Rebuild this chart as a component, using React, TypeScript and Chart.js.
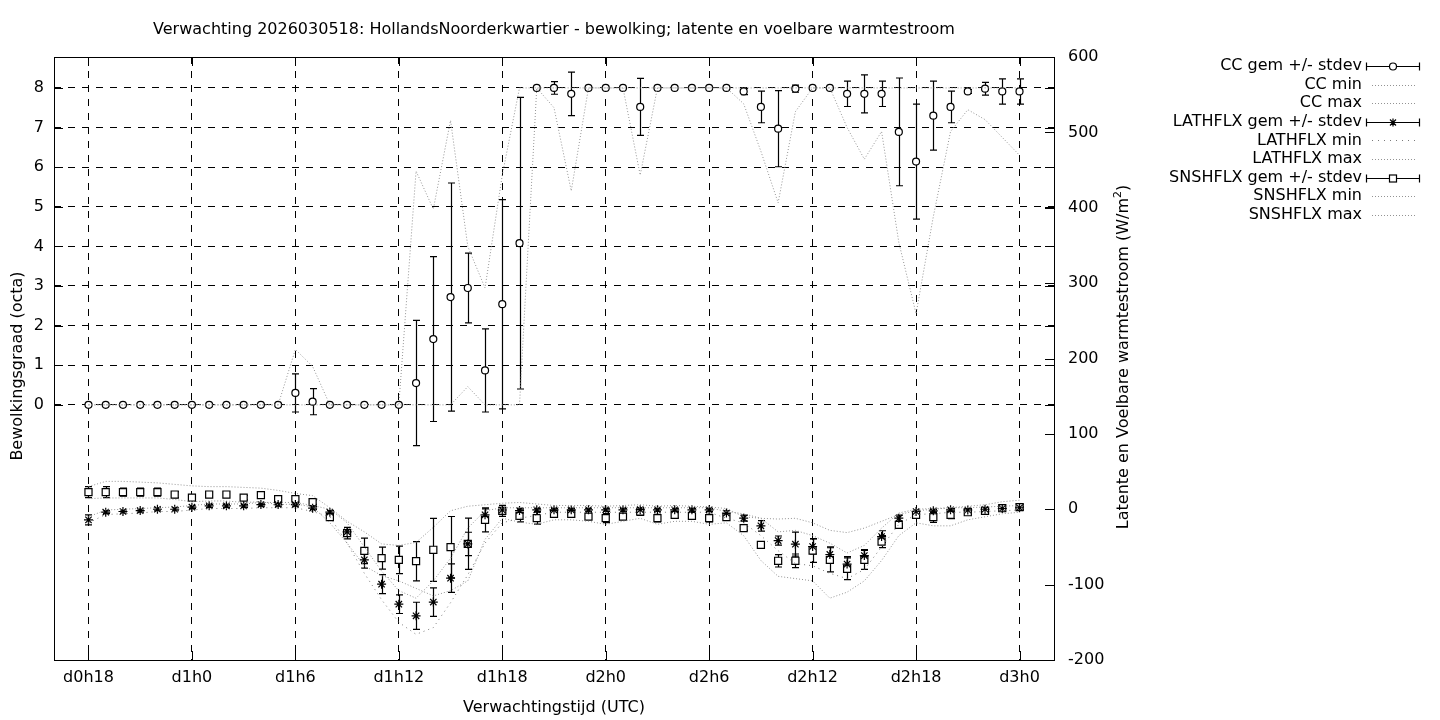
import React, { useEffect, useRef } from 'react';
import { Chart, registerables } from 'chart.js';

Chart.register(...registerables);

// ---------- data ----------
const hours = [
  18, 19, 20, 21, 22, 23, 24, 25, 26, 27, 28, 29,
  30, 31, 32, 33, 34, 35, 36,
  37, 38, 39, 40, 41, 42, 43,
  44, 45, 46, 47, 48, 49, 50,
  51, 52, 53, 54, 55, 56, 57,
  58, 59, 60, 61, 62, 63, 64,
  65, 66, 67, 68, 69, 70, 71, 72,
];

const tickHours = [18, 24, 30, 36, 42, 48, 54, 60, 66, 72];
const tickLabels = ['d0h18', 'd1h0', 'd1h6', 'd1h12', 'd1h18', 'd2h0', 'd2h6', 'd2h12', 'd2h18', 'd3h0'];
const ccTicks = [0, 1, 2, 3, 4, 5, 6, 7, 8];
const fluxTicks = [-200, -100, 0, 100, 200, 300, 400, 500, 600];

const ccMean = [
  0, 0, 0, 0, 0, 0, 0, 0, 0, 0, 0, 0,
  0.30, 0.08, 0, 0, 0, 0, 0,
  0.55, 1.66, 2.72, 2.95, 0.87, 2.54, 4.08,
  8, 8, 7.85, 8, 8, 8, 7.52,
  8, 8, 8, 8, 8, 7.91, 7.52,
  6.97, 7.98, 8, 8, 7.85, 7.85, 7.85,
  6.89, 6.14, 7.30, 7.52, 7.91, 7.98, 7.91, 7.91,
];
const ccSd = [
  0, 0, 0, 0, 0, 0, 0, 0, 0, 0, 0, 0,
  0.48, 0.33, 0, 0, 0, 0, 0,
  1.58, 2.08, 2.88, 0.88, 1.05, 2.64, 3.68,
  0, 0.16, 0.55, 0, 0, 0, 0.72,
  0, 0, 0, 0, 0, 0.08, 0.40,
  0.96, 0.09, 0, 0, 0.32, 0.48, 0.32,
  1.36, 1.45, 0.87, 0.40, 0.05, 0.16, 0.32, 0.32,
];
const ccMin = [
  0, 0, 0, 0, 0, 0, 0, 0, 0, 0, 0, 0,
  0, 0, 0, 0, 0, 0, 0,
  0, 0, 0, 0.46, 0, 0, 0,
  8, 7.5, 5.4, 8, 8, 8, 5.8,
  8, 8, 8, 8, 8, 7.6, 6.4,
  5.1, 7.4, 8, 8, 7.0, 6.2, 6.9,
  4.1, 2.3, 4.75, 6.9, 7.45, 7.2, 6.75, 6.3,
];
const ccMax = [
  0, 0, 0, 0, 0, 0, 0, 0, 0, 0, 0, 0,
  1.4, 0.97, 0, 0, 0, 0, 0,
  5.9, 4.94, 7.18, 4.0, 2.95, 5.8, 8,
  8, 8, 8, 8, 8, 8, 8,
  8, 8, 8, 8, 8, 8, 8,
  8, 8, 8, 8, 8, 8, 8,
  8, 8, 8, 8, 8, 8, 8, 8,
];

const lathMean = [
  -14.1, -3.9, -3.0, -1.7, 0, 0, 2.8, 4.5, 4.5, 4.5, 6.2, 6.2,
  6.2, 1.4, -3.9, -30, -67.1, -99.4, -125.9,
  -141.4, -123.2, -91.4, -46, -7.4, -1, -1.7,
  -0.8, -0.8, -0.8, -0.8, -0.8, -0.8, -0.5,
  -0.8, -0.8, -0.8, -0.8, -5, -11.8, -22,
  -41.5, -46.3, -49.4, -60, -72.8, -61.4, -36.2,
  -11.8, -3.0, -2.1, -0.8, -1, 0, 1, 2,
];
const lathSd = [
  6.6, 2, 2, 2, 2, 2, 2, 2, 2, 2, 2, 2,
  2, 2, 2, 6, 11, 12.6, 12.4,
  18, 19, 19, 15.5, 8, 3, 3,
  2, 2, 2, 2, 2, 2, 2,
  2, 2, 2, 2, 3, 4, 7,
  6, 16, 10, 10, 10, 8, 7.7,
  4, 2, 2, 2, 2, 2, 2, 2,
];
const lathMin = [
  -18, -7, -6, -5, -3, -3, -1, 1, 1, 1, 2, 2,
  2, -3, -10, -45, -85, -120, -150,
  -166, -157, -124, -87, -45, -18, -12,
  -8, -4, -4, -4, -4, -4, -4,
  -4, -4, -4, -4, -12, -18, -35,
  -55, -72, -75, -85, -92, -80, -50,
  -20, -7, -6, -4, -4, -3, -2, -1,
];
const lathMax = [
  -10, -1, 0, 1, 2, 3, 5, 7, 7, 7, 9, 9,
  9, 5, 0, -18, -50, -82, -108,
  -118, -95, -65, -25, -2, 2, 2,
  2, 2, 2, 2, 2, 2, 2,
  2, 2, 2, 2, -3, -6, -12,
  -30, -28, -35, -45, -58, -48, -25,
  -5, 0, 1, 2, 2, 3, 4, 5,
];

const snshMean = [
  22.7, 22.7, 22.7, 22.7, 22.7, 19.5, 15.5, 19.5, 19.5, 15.5, 18.7, 13.4,
  13.4, 9.4, -10.5, -31.7, -55.2, -64.9, -67.1,
  -68.9, -53.8, -50.3, -45.9, -14.1, -2.1, -8.8,
  -11.8, -6.1, -6.1, -9.7, -11.8, -9.7, -3.0,
  -11.8, -7.4, -8.8, -11.8, -10.5, -25.1, -47.2,
  -68.4, -68.4, -54.8, -67.1, -79.0, -67.1, -42.8,
  -20.7, -7.4, -10.5, -7.4, -3.9, -2.1, 1.4, 2.8,
];
const snshSd = [
  7.3, 7.3, 5.3, 5.3, 5.3, 4, 3, 3, 3, 3, 3, 3,
  3, 3, 3, 7.5, 17, 14.6, 18.3,
  26, 41.8, 40.7, 34, 16, 7.3, 8,
  8, 3, 4, 3, 6, 3, 5,
  5, 4, 3, 5, 3, 3, 4,
  8.2, 9, 15.7, 16, 14.4, 12.6, 8,
  4, 3, 7, 5, 3, 3, 4, 4,
];
const snshMin = [
  14, 15, 15, 15, 15, 13, 10, 11, 11, 9, 10, 6,
  7, 3, -18, -45, -75, -88, -95,
  -105, -115, -108, -95, -40, -12, -17,
  -20, -14, -14, -16, -20, -16, -12,
  -20, -16, -16, -20, -18, -35, -68,
  -89, -92, -95, -118, -110, -95, -68,
  -35, -18, -22, -22, -14, -10, -6, -4,
];
const snshMax = [
  30, 37, 37, 36, 35, 33, 31, 30, 30, 29, 28, 25,
  21, 18, 2, -16, -30, -46, -48,
  -44, -24, -2, 4, 6, 8, 9,
  7, 5, 5, 5, 4, 5, 6,
  4, 5, 4, 3, 1, -10, -12,
  -13, -12, -18, -28, -31, -25, -16,
  -7, -2, 0, 2, 4, 6, 10, 12,
];

const titleText = 'Verwachting 2026030518: HollandsNoorderkwartier - bewolking; latente en voelbare warmtestroom';
const xTitle = 'Verwachtingstijd (UTC)';
const yTitle = 'Bewolkingsgraad (octa)';
const y2TitleMain = 'Latente en Voelbare warmtestroom (W/m';

const legendItems = [
  { label: 'CC gem +/- stdev', kind: 'circle' },
  { label: 'CC min', kind: 'dot' },
  { label: 'CC max', kind: 'dot' },
  { label: 'LATHFLX gem +/- stdev', kind: 'star' },
  { label: 'LATHFLX min', kind: 'dotsparse' },
  { label: 'LATHFLX max', kind: 'dot' },
  { label: 'SNSHFLX gem +/- stdev', kind: 'square' },
  { label: 'SNSHFLX min', kind: 'dot' },
  { label: 'SNSHFLX max', kind: 'dot' },
];

// ---------- style ----------
const FAMILY = '"DejaVu Sans", "Noto Sans", sans-serif';
const FSIZE = 16;
const FONT = `${FSIZE}px ${FAMILY}`;
const GRAY = '#939393';
const GRID_DASH = [7, 7];

function drawMarker(ctx: CanvasRenderingContext2D, kind: string, x: number, y: number) {
  ctx.save();
  ctx.setLineDash([]);
  ctx.lineWidth = 1.2;
  ctx.strokeStyle = '#000';
  ctx.fillStyle = '#fff';
  if (kind === 'circle') {
    ctx.beginPath();
    ctx.arc(x, y, 3.5, 0, Math.PI * 2);
    ctx.fill();
    ctx.stroke();
  } else if (kind === 'square') {
    ctx.fillRect(x - 3.5, y - 3.5, 7, 7);
    ctx.strokeRect(x - 3.5, y - 3.5, 7, 7);
  } else if (kind === 'star') {
    const r = 4;
    ctx.beginPath();
    ctx.moveTo(x - r, y); ctx.lineTo(x + r, y);
    ctx.moveTo(x, y - r); ctx.lineTo(x, y + r);
    const d = r * 0.75;
    ctx.moveTo(x - d, y - d); ctx.lineTo(x + d, y + d);
    ctx.moveTo(x - d, y + d); ctx.lineTo(x + d, y - d);
    ctx.stroke();
  }
  ctx.restore();
}

const overlayPlugin = {
  id: 'overlay',
  beforeDatasetsDraw(chart: any) {
    const ctx: CanvasRenderingContext2D = chart.ctx;
    const xs = chart.scales.x;
    const { left, right, top, bottom } = chart.chartArea;
    ctx.save();
    ctx.beginPath();
    ctx.rect(left, top, right - left, bottom - top);
    ctx.clip();
    ctx.strokeStyle = '#000';
    ctx.lineWidth = 1.2;
    ctx.setLineDash([]);
    chart.data.datasets.forEach((ds: any) => {
      if (!ds.errors) return;
      const ys = chart.scales[ds.yAxisID];
      ds.data.forEach((p: any, i: number) => {
        const sd = ds.errors[i];
        if (!(sd > 0)) return;
        const px = Math.round(xs.getPixelForValue(p.x)) + 0.5;
        const y1 = ys.getPixelForValue(p.y + sd);
        const y2 = ys.getPixelForValue(p.y - sd);
        ctx.beginPath();
        ctx.moveTo(px, y1); ctx.lineTo(px, y2);
        ctx.moveTo(px - 3.5, y1); ctx.lineTo(px + 3.5, y1);
        ctx.moveTo(px - 3.5, y2); ctx.lineTo(px + 3.5, y2);
        ctx.stroke();
      });
    });
    ctx.restore();
  },
  afterDraw(chart: any) {
    const ctx: CanvasRenderingContext2D = chart.ctx;
    const { left, right, top, bottom } = chart.chartArea;
    const xs = chart.scales.x;
    const ys = chart.scales.y;
    const y2s = chart.scales.y1;
    ctx.save();
    ctx.setLineDash([]);
    ctx.strokeStyle = '#000';
    ctx.lineWidth = 1;
    // frame
    ctx.strokeRect(left + 0.5, top + 0.5, right - left, bottom - top);
    // inward ticks
    const T = 9;
    ctx.beginPath();
    tickHours.forEach((v) => {
      const px = Math.round(xs.getPixelForValue(v)) + 0.5;
      ctx.moveTo(px, bottom); ctx.lineTo(px, bottom - T);
      ctx.moveTo(px, top); ctx.lineTo(px, top + T);
    });
    ccTicks.forEach((v) => {
      const py = Math.round(ys.getPixelForValue(v)) + 0.5;
      ctx.moveTo(left, py); ctx.lineTo(left + T, py);
      ctx.moveTo(right, py); ctx.lineTo(right - T, py);
    });
    fluxTicks.forEach((v) => {
      const py = Math.round(y2s.getPixelForValue(v)) + 0.5;
      ctx.moveTo(right, py); ctx.lineTo(right - T, py);
    });
    ctx.stroke();

    // texts
    ctx.fillStyle = '#000';
    ctx.font = FONT;
    ctx.textBaseline = 'middle';
    ctx.textAlign = 'center';
    const cx = (left + right) / 2;
    ctx.fillText(titleText, cx, 30);
    ctx.fillText(xTitle, cx, 708);

    ctx.save();
    ctx.translate(18, 366);
    ctx.rotate(-Math.PI / 2);
    ctx.fillText(yTitle, 0, 0);
    ctx.restore();

    // right title with superscript
    ctx.save();
    ctx.translate(1124, 357);
    ctx.rotate(-Math.PI / 2);
    ctx.textAlign = 'left';
    const supFont = `${Math.round(FSIZE * 0.7)}px ${FAMILY}`;
    ctx.font = FONT;
    const w1 = ctx.measureText(y2TitleMain).width;
    ctx.font = supFont;
    const w2 = ctx.measureText('2').width;
    ctx.font = FONT;
    const w3 = ctx.measureText(')').width;
    const tot = w1 + w2 + w3;
    let sx = -tot / 2;
    ctx.fillText(y2TitleMain, sx, 0);
    sx += w1;
    ctx.font = supFont;
    ctx.fillText('2', sx, -6);
    sx += w2;
    ctx.font = FONT;
    ctx.fillText(')', sx, 0);
    ctx.restore();

    // legend
    const textRight = 1362;
    const sx0 = 1366;
    const sx1 = 1420;
    legendItems.forEach((it, i) => {
      const yy = 66 + i * 18.6;
      ctx.font = FONT;
      ctx.textAlign = 'right';
      ctx.fillStyle = '#000';
      ctx.fillText(it.label, textRight, yy);
      const py = Math.round(yy) + 0.5;
      if (it.kind === 'dot' || it.kind === 'dotsparse') {
        ctx.save();
        ctx.strokeStyle = it.kind === 'dotsparse' ? '#7a7a7a' : GRAY;
        ctx.lineWidth = 1;
        ctx.setLineDash(it.kind === 'dotsparse' ? [1, 5] : [1, 2]);
        ctx.beginPath();
        ctx.moveTo(sx0 + 6, py); ctx.lineTo(sx1 - 3, py);
        ctx.stroke();
        ctx.restore();
      } else {
        ctx.save();
        ctx.setLineDash([]);
        ctx.strokeStyle = '#000';
        ctx.lineWidth = 1.2;
        ctx.beginPath();
        ctx.moveTo(sx0, py); ctx.lineTo(sx1, py);
        ctx.moveTo(sx0 + 0.5, py - 4); ctx.lineTo(sx0 + 0.5, py + 4);
        ctx.moveTo(sx1 - 0.5, py - 4); ctx.lineTo(sx1 - 0.5, py + 4);
        ctx.stroke();
        ctx.restore();
        drawMarker(ctx, it.kind, (sx0 + sx1) / 2, py);
      }
    });
    ctx.restore();
  },
};

export default function App() {
  const ref = useRef<HTMLCanvasElement>(null);

  useEffect(() => {
    const canvas = ref.current;
    if (!canvas) return;
    const pts = (vals: number[]) => hours.map((h, i) => ({ x: h, y: vals[i] }));
    const dotted = (label: string, vals: number[], axis: string, dash: number[], color: string) => ({
      type: 'line',
      label,
      data: pts(vals),
      yAxisID: axis,
      borderColor: color,
      borderWidth: 1,
      borderDash: dash,
      pointRadius: 0,
      fill: false,
      tension: 0,
      order: 0,
    });
    const means = (label: string, vals: number[], sd: number[], axis: string, style: string, radius: number) => ({
      type: 'line',
      label,
      data: pts(vals),
      errors: sd,
      yAxisID: axis,
      showLine: false,
      pointStyle: style,
      pointRadius: radius,
      pointBorderColor: '#000',
      pointBackgroundColor: '#fff',
      pointBorderWidth: 1.2,
      order: 1,
    });

    const tickFont = { family: FAMILY, size: FSIZE };

    const chart = new Chart(canvas, {
      type: 'line',
      data: {
        datasets: [
          means('CC gem +/- stdev', ccMean, ccSd, 'y', 'circle', 3.5),
          dotted('CC min', ccMin, 'y', [1, 2], GRAY),
          dotted('CC max', ccMax, 'y', [1, 2], GRAY),
          means('LATHFLX gem +/- stdev', lathMean, lathSd, 'y1', 'star', 4.5),
          dotted('LATHFLX min', lathMin, 'y1', [1, 4], '#7a7a7a'),
          dotted('LATHFLX max', lathMax, 'y1', [1, 2], GRAY),
          means('SNSHFLX gem +/- stdev', snshMean, snshSd, 'y1', 'rect', 5),
          dotted('SNSHFLX min', snshMin, 'y1', [1, 2], GRAY),
          dotted('SNSHFLX max', snshMax, 'y1', [1, 2], GRAY),
        ] as any,
      },
      options: {
        responsive: false,
        animation: false,
        events: [],
        layout: { padding: { top: 57, left: 0, right: 0, bottom: 0 } },
        plugins: {
          legend: { display: false },
          title: { display: false },
          tooltip: { enabled: false },
        },
        scales: {
          x: {
            type: 'linear',
            position: 'bottom',
            min: 16,
            max: 74,
            afterBuildTicks: (s: any) => {
              s.ticks = tickHours.map((v) => ({ value: v }));
            },
            afterFit: (s: any) => {
              s.height = 60;
            },
            ticks: {
              autoSkip: false,
              maxRotation: 0,
              padding: 8,
              color: '#000',
              font: tickFont,
              callback: (v: any) => {
                const i = tickHours.indexOf(Number(v));
                return i >= 0 ? tickLabels[i] : '';
              },
            },
            grid: { color: '#000', lineWidth: 1, drawTicks: false },
            border: { display: false, dash: GRID_DASH },
          },
          y: {
            type: 'linear',
            position: 'left',
            min: -6.44,
            max: 8.78,
            afterBuildTicks: (s: any) => {
              s.ticks = ccTicks.map((v) => ({ value: v }));
            },
            afterFit: (s: any) => {
              s.width = 54;
            },
            ticks: { padding: 10, color: '#000', font: tickFont },
            grid: { color: '#000', lineWidth: 1, drawTicks: false },
            border: { display: false, dash: GRID_DASH },
          },
          y1: {
            type: 'linear',
            position: 'right',
            min: -200,
            max: 600,
            afterBuildTicks: (s: any) => {
              s.ticks = fluxTicks.map((v) => ({ value: v }));
            },
            afterFit: (s: any) => {
              s.width = 386;
            },
            ticks: { padding: 14, color: '#000', font: tickFont },
            grid: { display: false, drawTicks: false },
            border: { display: false },
          },
        },
      } as any,
      plugins: [overlayPlugin],
    });

    return () => {
      chart.destroy();
    };
  }, []);

  return (
    <div style={{ position: 'absolute', left: 0, top: 0, width: 1440, height: 720, background: '#fff' }}>
      <canvas ref={ref} width={1440} height={720} style={{ display: 'block' }} />
    </div>
  );
}
